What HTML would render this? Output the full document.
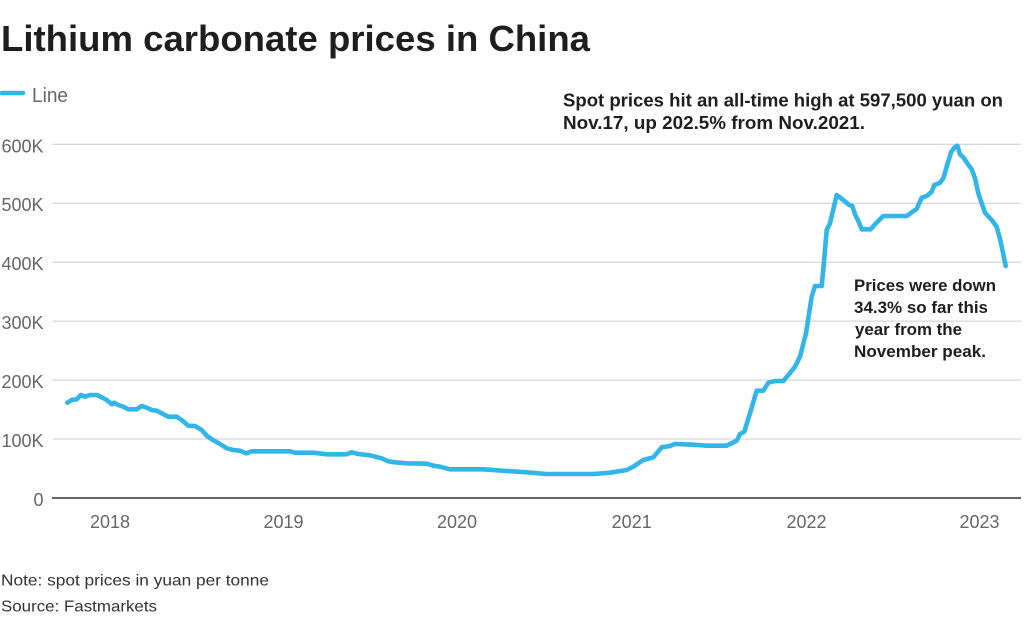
<!DOCTYPE html>
<html>
<head>
<meta charset="utf-8">
<style>
  html, body { margin: 0; padding: 0; background: #fff; }
  body { width: 1024px; height: 621px; overflow: hidden; }
  svg { display: block; }
  text { font-family: "Liberation Sans", Arial, sans-serif; }
</style>
</head>
<body>
<svg width="1024" height="621" viewBox="0 0 1024 621" xmlns="http://www.w3.org/2000/svg">
  <rect width="1024" height="621" fill="#fff"/>

  <!-- Title -->
  <text x="1" y="51" font-size="36" font-weight="bold" fill="#1e1e1e" textLength="589" lengthAdjust="spacingAndGlyphs">Lithium carbonate prices in China</text>

  <!-- Legend -->
  <line x1="2" y1="93" x2="23" y2="93" stroke="#32b5e8" stroke-width="4.5" stroke-linecap="round"/>
  <text x="32" y="102" font-size="20" fill="#666" textLength="36" lengthAdjust="spacingAndGlyphs">Line</text>

  <!-- Gridlines -->
  <g stroke="#cccccc" stroke-width="1">
    <line x1="52.5" y1="144.3" x2="1021" y2="144.3"/>
    <line x1="52.5" y1="203.2" x2="1021" y2="203.2"/>
    <line x1="52.5" y1="262.2" x2="1021" y2="262.2"/>
    <line x1="52.5" y1="321.1" x2="1021" y2="321.1"/>
    <line x1="52.5" y1="380.1" x2="1021" y2="380.1"/>
    <line x1="52.5" y1="439" x2="1021" y2="439"/>
  </g>
  <line x1="52" y1="498" x2="1021" y2="498" stroke="#333" stroke-width="1.5"/>

  <!-- Y labels -->
  <g font-size="18" fill="#666" text-anchor="end">
    <text x="43.5" y="152.3">600K</text>
    <text x="43.5" y="211.2">500K</text>
    <text x="43.5" y="270.2">400K</text>
    <text x="43.5" y="329.1">300K</text>
    <text x="43.5" y="388.1">200K</text>
    <text x="43.5" y="447">100K</text>
    <text x="43.5" y="506">0</text>
  </g>

  <!-- X labels -->
  <g font-size="18" fill="#666" text-anchor="middle">
    <text x="110" y="528">2018</text>
    <text x="283.5" y="528">2019</text>
    <text x="457" y="528">2020</text>
    <text x="631.7" y="528">2021</text>
    <text x="806.5" y="528">2022</text>
    <text x="979.5" y="528">2023</text>
  </g>

  <!-- Series -->
  <polyline fill="none" stroke="#32b5e8" stroke-width="4.6" stroke-linejoin="round" stroke-linecap="round" points="
67.3,402.7 71.7,400 76.7,399.3 81,395 85,396.7 90,395 96.7,395 101.7,397.3 106.7,400 111.7,404.3 114,402.7 118.3,405 123.3,406.7 128.3,409.3 136.7,409.3 141.7,406 146.7,407.7 151.7,410 156.7,410.7 161.7,413.3 168.3,416.7 176.7,416.7 181.7,420 188.3,425.7 195,426 201.7,430 206.7,435.7 211.7,439.3 220,444 226.7,448.3 233.3,450 240,450.7 246,453.3 251.7,451.3 290,451.3 295,452.7 313.3,452.7 326.7,454.3 346.7,454.3 351.7,452.3 358.3,454 370,455.3 381.7,458.3 388.3,461.3 395,462.3 406.7,463.3 426.7,463.7 433.3,465.7 440,466.7 450,469.3 483.3,469.3 496.7,470.3 526.7,472.3 546.7,474 593.3,474 610,472.7 626.7,470 633.3,466.7 643.3,460 653.3,457.3 661.7,447.3 670,446 675,444 693.3,444.7 706.7,445.7 726.7,445.7 736.7,440.7 740,434 744.3,431.7 750,413.3 756.7,390.7 763.3,390.7 768.3,382.7 775,381 783.3,381 788.3,375 795,366.7 800,356.7 806,333.3 811.7,296.7 815,286 821.7,286 824,261.7 826.7,230 830,223.3 836.7,195 843.3,200 849.3,205 852.3,206 855,214.3 858.3,221 861.7,229.3 870.7,229.3 875,224.3 883.3,216 906.7,216 911.7,212.3 916.7,209 921.7,197.7 926.7,196 931.7,191.7 934.3,185 940,182.7 943.3,178.3 946.7,166.7 951,152.3 954.3,147.7 957.3,145.7 960,154.3 963.3,157.3 967.3,163.3 971.7,169.3 975,178.3 978.3,193.3 981.7,203.3 985,212.7 991.7,220 996.7,226.7 1000.7,241.7 1005.7,266"/>

  <!-- Annotation 1 -->
  <g font-size="18" font-weight="bold" fill="#1e1e1e">
    <text x="563" y="106.5" textLength="440" lengthAdjust="spacingAndGlyphs">Spot prices hit an all-time high at 597,500 yuan on</text>
    <text x="563" y="129" textLength="302" lengthAdjust="spacingAndGlyphs">Nov.17, up 202.5% from Nov.2021.</text>
  </g>

  <!-- Annotation 2 -->
  <g font-size="17" font-weight="bold" fill="#1e1e1e">
    <text x="854" y="291" textLength="142" lengthAdjust="spacingAndGlyphs">Prices were down</text>
    <text x="854" y="313" textLength="134" lengthAdjust="spacingAndGlyphs">34.3% so far this</text>
    <text x="855" y="335" textLength="107" lengthAdjust="spacingAndGlyphs">year from the</text>
    <text x="854" y="357" textLength="132" lengthAdjust="spacingAndGlyphs">November peak.</text>
  </g>

  <!-- Footer -->
  <text x="1" y="585.5" font-size="16" fill="#333" textLength="268" lengthAdjust="spacingAndGlyphs">Note: spot prices in yuan per tonne</text>
  <text x="1" y="611.5" font-size="16" fill="#333" textLength="156" lengthAdjust="spacingAndGlyphs">Source: Fastmarkets</text>
</svg>
</body>
</html>
